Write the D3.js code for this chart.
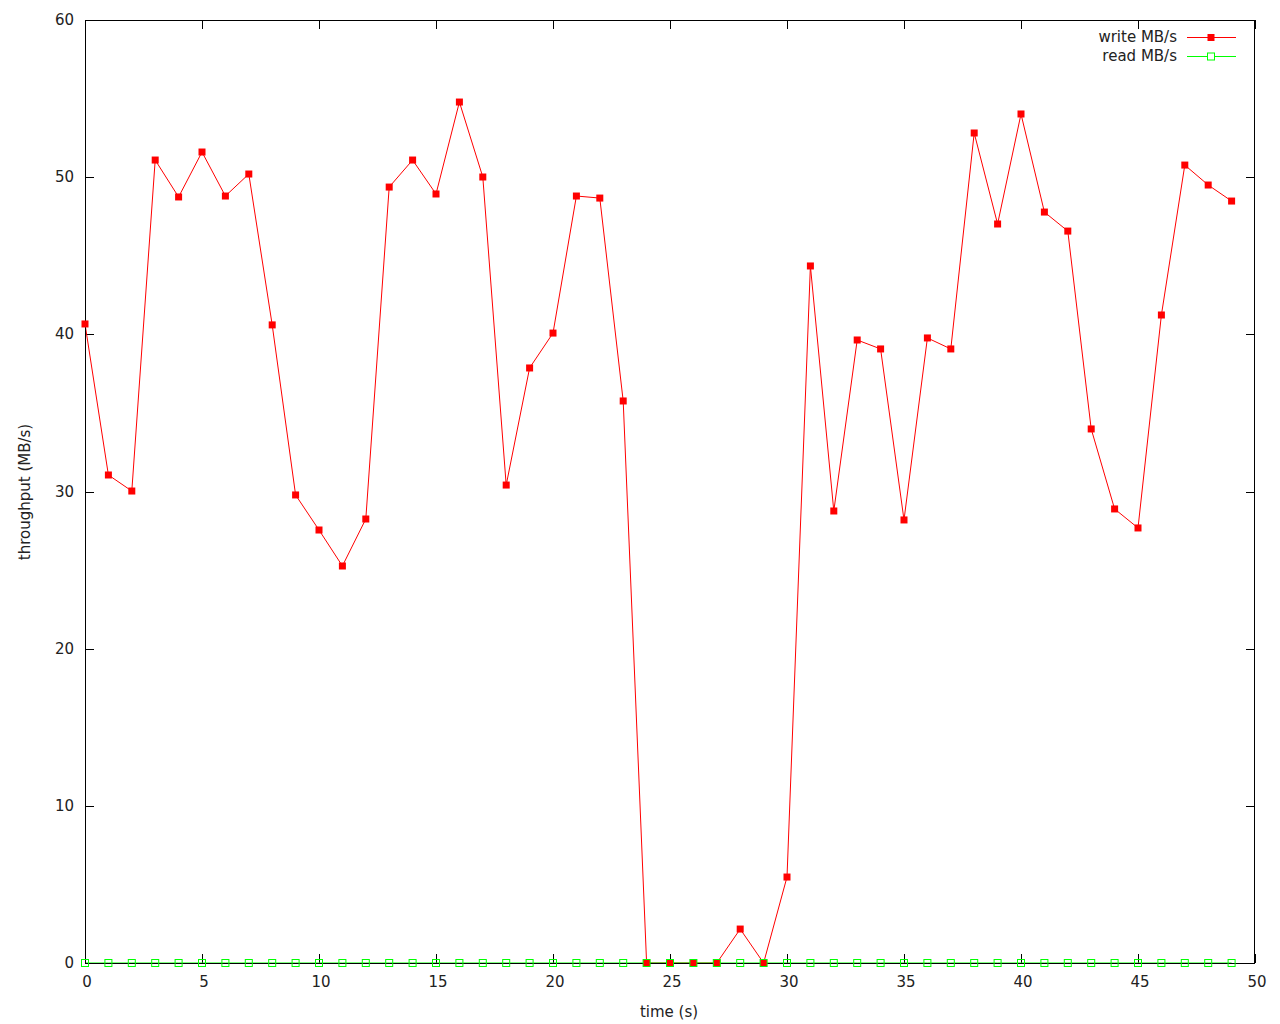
<!DOCTYPE html>
<html><head><meta charset="utf-8">
<script src="https://cdn.jsdelivr.net/npm/d3@7"></script>
<style>body{margin:0;background:#fff}svg{display:block}text{font-family:"DejaVu Sans",sans-serif;fill:#222}</style>
</head><body>
<script>
const times = d3.range(0, 50);
const writeMBs = [40.66,31.05,30.03,51.09,48.74,51.6,48.8,50.2,40.6,29.78,
  27.55,25.26,28.25,49.37,51.09,48.93,54.78,50.01,30.41,37.86,
  40.08,48.8,48.67,35.76,0,0,0,0,2.16,0,
  5.47,44.35,28.76,39.64,39.07,28.19,39.77,39.07,52.81,47.02,
  54.02,47.78,46.57,33.98,28.89,27.68,41.23,50.77,49.5,48.48];
const readMBs = times.map(() => 0);
const xTicks = [0,5,10,15,20,25,30,35,40,45,50];
const yTicks = [0,10,20,30,40,50,60];

const W = 1280, H = 1024;
const L = 85, R = 1255, T = 20, B = 963;
const svg = d3.select("body").append("svg").attr("width", W).attr("height", H);
const x = d3.scaleLinear().domain([0,50]).range([L,R]);
const y = d3.scaleLinear().domain([0,60]).range([B,T]);
const fs = 15;

// ticks (inward, mirrored)
const g = svg.append("g").attr("stroke","#000").attr("stroke-width",1).attr("shape-rendering","crispEdges");
xTicks.forEach(v => {
  const px = Math.round(x(v)) + 0.5;
  g.append("line").attr("x1",px).attr("x2",px).attr("y1",B).attr("y2",B-9);
  g.append("line").attr("x1",px).attr("x2",px).attr("y1",T).attr("y2",T+9);
});
yTicks.forEach(v => {
  const py = Math.round(y(v)) + 0.5;
  g.append("line").attr("x1",L).attr("x2",L+9).attr("y1",py).attr("y2",py);
  g.append("line").attr("x1",R).attr("x2",R-9).attr("y1",py).attr("y2",py);
});
xTicks.forEach(v => {
  svg.append("text").attr("x",x(v)+2).attr("y",B+24).attr("text-anchor","middle").attr("font-size",fs).text(v);
});
yTicks.forEach(v => {
  svg.append("text").attr("x",L-11).attr("y",y(v)+5).attr("text-anchor","end").attr("font-size",fs).text(v);
});
svg.append("text").attr("x",669).attr("y",1017).attr("text-anchor","middle").attr("font-size",fs).text("time (s)");
svg.append("text").attr("transform","translate(30,492) rotate(-90)").attr("text-anchor","middle").attr("font-size",fs).text("throughput (MB/s)");

// lines
const line = d3.line().x((d,i)=>x(times[i])).y(d=>y(d));
svg.append("path").datum(writeMBs).attr("d",line).attr("fill","none").attr("stroke","#ff0000").attr("stroke-width",1);
svg.append("path").datum(readMBs).attr("d",line).attr("fill","none").attr("stroke","#00ff00").attr("stroke-width",1);

// frame
svg.append("rect").attr("x",L+0.5).attr("y",T+0.5).attr("width",R-L-1).attr("height",B-T)
  .attr("fill","none").attr("stroke","#000").attr("stroke-width",1).attr("shape-rendering","crispEdges");

// markers
svg.append("g").selectAll("rect").data(writeMBs).join("rect")
  .attr("x",(d,i)=>x(times[i])-3.5).attr("y",d=>y(d)-3.5).attr("width",7).attr("height",7).attr("fill","#ff0000");
svg.append("g").selectAll("rect").data(readMBs).join("rect")
  .attr("x",(d,i)=>x(times[i])-3.5).attr("y",d=>y(d)-3.5).attr("width",7).attr("height",7)
  .attr("fill","none").attr("stroke","#00ff00").attr("stroke-width",1);

// legend
const leg = [{name:"write MB/s", color:"#ff0000", fill:true, yy:37},{name:"read MB/s", color:"#00ff00", fill:false, yy:56}];
leg.forEach(d => {
  svg.append("text").attr("x",1177).attr("y",d.yy+5).attr("text-anchor","end").attr("font-size",fs).text(d.name);
  svg.append("line").attr("x1",1187).attr("x2",1236).attr("y1",d.yy+0.5).attr("y2",d.yy+0.5).attr("stroke",d.color).attr("stroke-width",1);
  const r = svg.append("rect").attr("x",1211-3.5).attr("y",d.yy-3).attr("width",7).attr("height",7);
  if (d.fill) r.attr("fill",d.color); else r.attr("fill","#fff").attr("stroke",d.color);
});
</script>
</body></html>
